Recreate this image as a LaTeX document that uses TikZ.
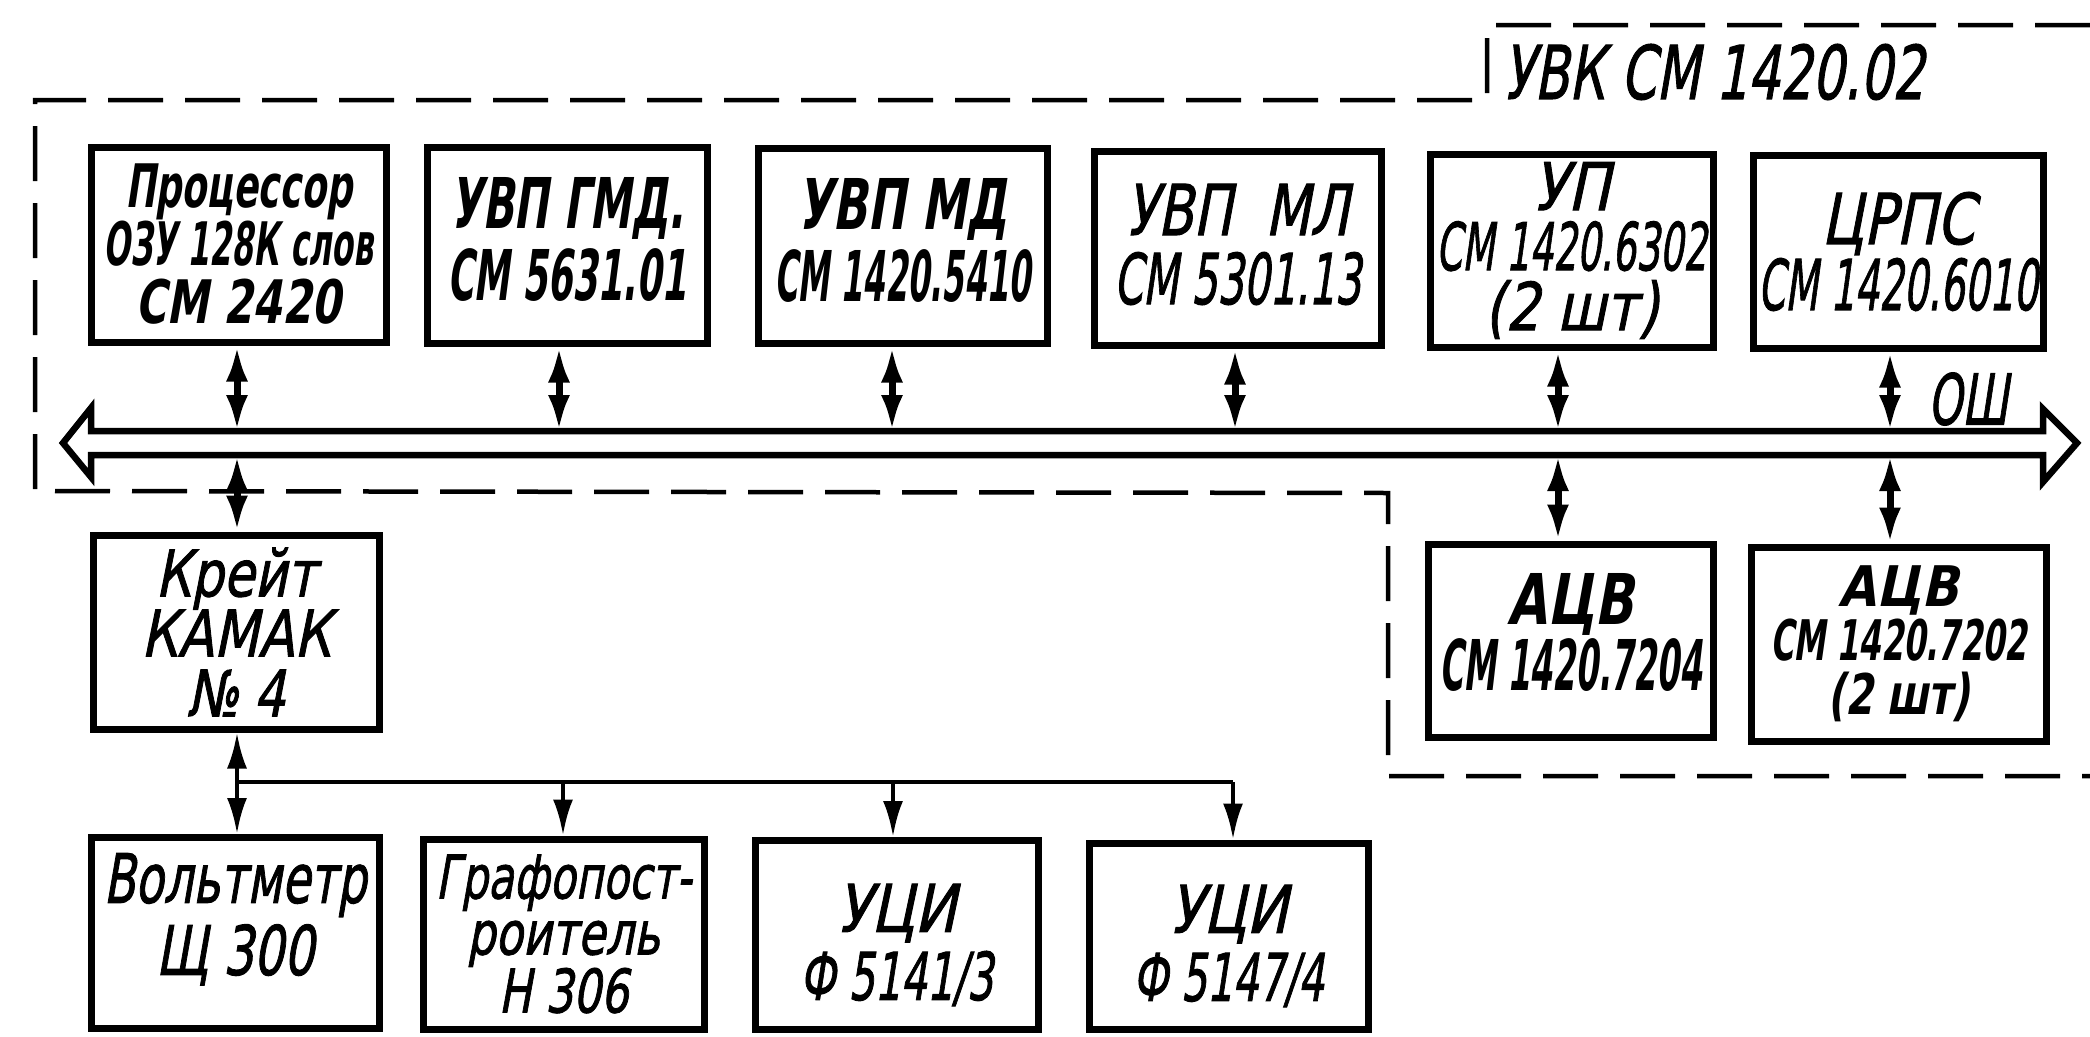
\documentclass[tikz,border=0pt]{standalone}
\usepackage{fontspec}
\setmainfont{DejaVu Sans}[FakeSlant=0.25, UprightFeatures={FakeBold=1.6}]
\usepackage{graphicx}
\usetikzlibrary{arrows.meta,calc}
\newcommand{\fw}[2]{\resizebox{#1pt}{\height}{#2}}
\newcommand{\upby}[1]{\rule[-#1pt]{0pt}{#1pt}}
\newcommand{\hstrut}[1]{\rule{0pt}{#1pt}}
\begin{document}
\begin{tikzpicture}[x=1pt,y=-1pt,
  blk/.style={draw, line width=7pt, inner sep=0pt, align=center},
  lbl/.style={inner sep=0pt, align=center},
  dashline/.style={line width=4.5pt, dash pattern=on 55pt off 22pt},
  busline/.style={line width=6.5pt, line join=miter},
  topconn/.style={line width=7pt, {Latex[length=36pt,width=22pt]}-{Latex[length=36pt,width=22pt]}},
  lowconn/.style={line width=4.5pt},
  lowtip/.style={-{Latex[length=36pt,width=20pt]}},
  lowtips/.style={{Latex[length=36pt,width=20pt]}-{Latex[length=36pt,width=20pt]}}
]
\useasboundingbox (0,0) rectangle (2090,1036);
\fill[white] (0,0) rectangle (2090,1036);

% outline of the computer complex
\draw[dashline] (2090,25) -- (1487,25) -- (1487,100) -- (35,100) -- (35,491) -- (1388,493) -- (1388,776) -- (2090,776);

\node[lbl, font=\fontsize{74}{74}\selectfont] (uvk) at (1714,72) {\fw{421}{УВК СМ 1420.02}};

% top row
\node[blk, font=\fontsize{60}{58}\selectfont\bfseries, minimum width=295pt, minimum height=195pt] (p1) at (238.5,244.5)
  {\fw{227}{Процессор}\\\fw{270}{ОЗУ 128К слов}\\\fw{205}{СМ 2420}};
\node[blk, font=\fontsize{70}{72}\selectfont\bfseries, minimum width=280pt, minimum height=196pt] (p2) at (567,245)
  {\fw{234}{УВП ГМД.}\\\fw{240}{СМ 5631.01}\upby{12}};
\node[blk, font=\fontsize{70}{72}\selectfont\bfseries, minimum width=289pt, minimum height=195pt] (p3) at (902.5,245.5)
  {\fw{210}{УВП МД}\\\fw{257}{СМ 1420.5410}\upby{12}};
\node[blk, font=\fontsize{70}{69}\selectfont, minimum width=287pt, minimum height=194pt] (p4) at (1237.5,248)
  {\fw{223}{УВП\ \ МЛ}\\\fw{247}{СМ 5301.13}\upby{8}};
\node[blk, font=\fontsize{66}{60}\selectfont, minimum width=283pt, minimum height=193pt] (p5) at (1571.5,250.5)
  {\fw{77}{УП}\\\fw{271}{СМ 1420.6302}\\\fw{174}{(2 шт)}};
\node[blk, font=\fontsize{70}{66}\selectfont, minimum width=290pt, minimum height=193pt] (p6) at (1898,251.5)
  {\fw{153}{ЦРПС}\\\fw{280}{СМ 1420.6010}};

% bus
\coordinate (busT) at (0,431);
\coordinate (busB) at (0,455);
\draw[busline] (91,431) -- (2043,431) -- (2043,409) -- (2077,443) -- (2043,482) -- (2043,455)
  -- (91,455) -- (91,477) -- (63,443) -- (91,408) -- cycle;
\node[lbl, font=\fontsize{70}{70}\selectfont] (osh) at (1968,399) {\fw{80}{ОШ}};

% connector positions
\coordinate (c1) at (237,0);
\coordinate (c2) at (559,0);
\coordinate (c3) at (892,0);
\coordinate (c4) at (1235,0);
\coordinate (c5) at (1558,0);
\coordinate (c6) at (1890,0);
\coordinate (c7) at (563,0);
\coordinate (c8) at (893,0);
\coordinate (c9) at (1233,0);

\draw[topconn] (c1 |- p1.south) -- (c1 |- busT);
\draw[topconn] (c2 |- p2.south) -- (c2 |- busT);
\draw[topconn] (c3 |- p3.south) -- (c3 |- busT);
\draw[topconn] (c4 |- p4.south) -- (c4 |- busT);
\draw[topconn] (c5 |- p5.south) -- (c5 |- busT);
\draw[topconn] (c6 |- p6.south) -- (c6 |- busT);

% below the bus
\node[blk, font=\fontsize{64}{60}\selectfont, minimum width=286pt, minimum height=194pt] (kr) at (236,632)
  {\fw{161}{Крейт}\\\fw{190}{КАМАК}\\\fw{98}{№ 4}};
\node[blk, font=\fontsize{70}{66}\selectfont\bfseries, minimum width=285pt, minimum height=193pt] (a1) at (1570.5,640.5)
  {\fw{126}{АЦВ}\\\fw{263}{СМ 1420.7204}\upby{18}};
\node[blk, font=\fontsize{56}{54}\selectfont\bfseries, minimum width=295pt, minimum height=194pt] (a2) at (1898.5,644)
  {\fw{120}{АЦВ}\\\fw{257}{СМ 1420.7202}\\\fw{143}{(2 шт)}};

\draw[topconn] (c1 |- busB) -- (c1 |- kr.north);
\draw[topconn] (c5 |- busB) -- (c5 |- a1.north);
\draw[topconn] (c6 |- busB) -- (c6 |- a2.north);

% bottom row
\node[blk, font=\fontsize{68}{72}\selectfont, minimum width=288pt, minimum height=191pt] (v1) at (235,933)
  {\fw{263}{Вольтметр}\\\fw{158}{Щ 300}\upby{38}};
\node[blk, font=\fontsize{60}{56}\selectfont, minimum width=281pt, minimum height=190pt] (v2) at (563.5,934)
  {\fw{256}{Графопост-}\\\fw{193}{роитель}\\\fw{130}{Н 306}};
\node[blk, font=\fontsize{66}{68}\selectfont, minimum width=283pt, minimum height=189pt] (v3) at (896.5,935)
  {\hstrut{68}\fw{119}{УЦИ}\\\fw{193}{Ф 5141/3}};
\node[blk, font=\fontsize{66}{68}\selectfont, minimum width=279pt, minimum height=186pt] (v4) at (1228.5,936)
  {\hstrut{68}\fw{118}{УЦИ}\\\fw{191}{Ф 5147/4}};

\coordinate (hj) at (237,782);
\draw[lowconn, lowtips] (c1 |- kr.south) -- (c1 |- v1.north);
\draw[lowconn] (hj) -- (c9 |- hj);
\draw[lowconn, lowtip] (c7 |- hj) -- (c7 |- v2.north);
\draw[lowconn, lowtip] (c8 |- hj) -- (c8 |- v3.north);
\draw[lowconn, lowtip] (c9 |- hj) -- (c9 |- v4.north);
\end{tikzpicture}
\end{document}
